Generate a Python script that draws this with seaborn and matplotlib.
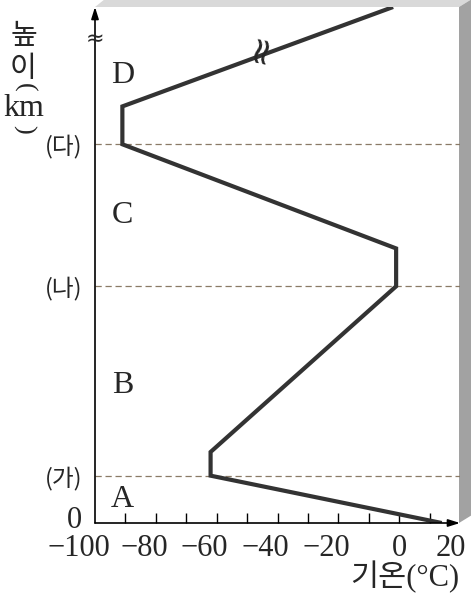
import matplotlib
matplotlib.use("Agg")
import matplotlib.pyplot as plt
import matplotlib.transforms as mtransforms
from matplotlib.patches import Polygon
import pandas as pd
import seaborn as sns

# temperature (°C) against height (km)
temperature = [14, -62, -62, -1, -1, -91, -91, -2]
height = [0, 10, 15, 50, 58, 80, 88, 109]

# layer boundaries and layer names
boundary_heights = [10, 50, 80]
boundary_labels = ["(가)", "(나)", "(다)"]
layer_names = ["A", "B", "C", "D"]
layer_heights = [5, 29, 65, 94.5]
layer_label_x = -91

x_ticks = [-100, -80, -60, -40, -20, 0, 20]
x_minor_ticks = [-90, -70, -50, -30, -10, 10]
x_tick_labels = ["\u2212100", "\u221280", "\u221260", "\u221240", "\u221220", "0", "20"]

W, H = 471, 597
SERIF_KR = ["Liberation Serif", "Noto Sans CJK KR"]

sns.set_style("white")
plt.rcParams["font.family"] = SERIF_KR

fig = plt.figure(figsize=(W / 100, H / 100), dpi=100)
fig.patch.set_facecolor("white")


def px(x, y):
    # image pixel -> figure fraction
    return x / W, 1 - y / H


def shift(artist, dx, dy):
    # nudge a text by a few pixels
    off = mtransforms.ScaledTranslation(dx / 100, dy / 100, fig.dpi_scale_trans)
    artist.set_transform(artist.get_transform() + off)


# the slab look: light top face and darker right face
top_face = Polygon([px(95, 7), px(105, -1), px(472, -1), px(459, 7)],
                   closed=True, transform=fig.transFigure, facecolor="#d9d9d9",
                   edgecolor="none", zorder=-2)
right_face = Polygon([px(459, 7), px(472, -1), px(472, 515), px(459, 523)],
                     closed=True, transform=fig.transFigure, facecolor="#a2a2a2",
                     edgecolor="none", zorder=-2)
fig.patches.extend([top_face, right_face])

ax = fig.add_axes([95 / W, 74 / H, 365 / W, 516 / H])
ax.patch.set_visible(False)

df = pd.DataFrame({"temperature": temperature, "height": height})
sns.lineplot(data=df, x="temperature", y="height", sort=False, estimator=None,
             color="#333333", lw=3, ax=ax, zorder=3,
             solid_joinstyle="miter", solid_capstyle="butt")

for h in boundary_heights:
    ax.axhline(h, color="#8a7a66", lw=0.9, ls=(0, (5, 3)), zorder=1)

ax.set_xlim(-100, 20)
ax.set_ylim(0, 109)
ax.set_xlabel("")
ax.set_ylabel("")

for s in ax.spines.values():
    s.set_visible(False)

# axes drawn as arrows
arrow = dict(arrowstyle="-|>,head_length=0.7,head_width=0.22", color="black",
             lw=1.2, shrinkA=0, shrinkB=0)
ax.annotate("", xy=(1.0, 0), xytext=(0, 0), xycoords="axes fraction",
            arrowprops=arrow, annotation_clip=False)
ax.annotate("", xy=(0, 1.0), xytext=(0, 0), xycoords="axes fraction",
            arrowprops=arrow, annotation_clip=False)

ax.set_xticks(x_ticks)
ax.set_xticklabels(x_tick_labels)
ax.set_xticks(x_minor_ticks, minor=True)
ax.tick_params(axis="x", which="both", direction="in", length=7, width=1,
               color="black", pad=8, labelsize=22, bottom=True)
ticks = ax.xaxis.get_major_ticks()
ticks[0].tick1line.set_visible(False)
ticks[-1].tick1line.set_visible(False)
# digits sit on the tick, the minus sign hangs to the left
for t, lab in zip(ticks, x_tick_labels):
    if lab == "\u2212100":
        shift(t.label1, -16, 0)
    elif lab.startswith("\u2212"):
        shift(t.label1, -12, 0)
    elif lab == "20":
        shift(t.label1, -9, 0)

ax.set_yticks([0] + boundary_heights)
ax.set_yticklabels(["0"] + boundary_labels)
ax.tick_params(axis="y", length=0, pad=9, left=True)
for i, lab in enumerate(ax.get_yticklabels()):
    if i == 0:
        lab.set_fontsize(22)
        lab.set_family("Liberation Serif")
    else:
        lab.set_fontsize(17)
        lab.set_family("Noto Sans CJK KR")
shift(ax.yaxis.get_major_ticks()[0].label1, 0, 6)

# layer letters
for name, h in zip(layer_names, layer_heights):
    ax.text(layer_label_x, h, name, fontsize=23, family="Liberation Serif",
            ha="center", va="center")

# axis break marks
ax.text(-100, 102.3, "\u2248", fontsize=16, family="DejaVu Sans",
        ha="center", va="center", clip_on=False, zorder=4)
ax.text(-45, 100.2, "\u2248", fontsize=27, family="DejaVu Sans", rotation=78,
        ha="center", va="center", zorder=4)

# axis titles
fig.text(*px(459, 577), "기온(°C)", fontsize=22, family=SERIF_KR,
         ha="right", va="center")
fig.text(*px(24, 36), "높", fontsize=21, family="Noto Sans CJK KR", ha="center", va="center")
fig.text(*px(23, 69), "이", fontsize=21, family="Noto Sans CJK KR", ha="center", va="center")
fig.text(*px(24, 87), "(", fontsize=19, family="Liberation Serif", rotation=-90,
         ha="center", va="center")
fig.text(*px(24, 108), "km", fontsize=23, family="Liberation Serif", ha="center", va="center")
fig.text(*px(24, 129), ")", fontsize=19, family="Liberation Serif", rotation=-90,
         ha="center", va="center")

plt.savefig("out.png", dpi=100, facecolor="white")
